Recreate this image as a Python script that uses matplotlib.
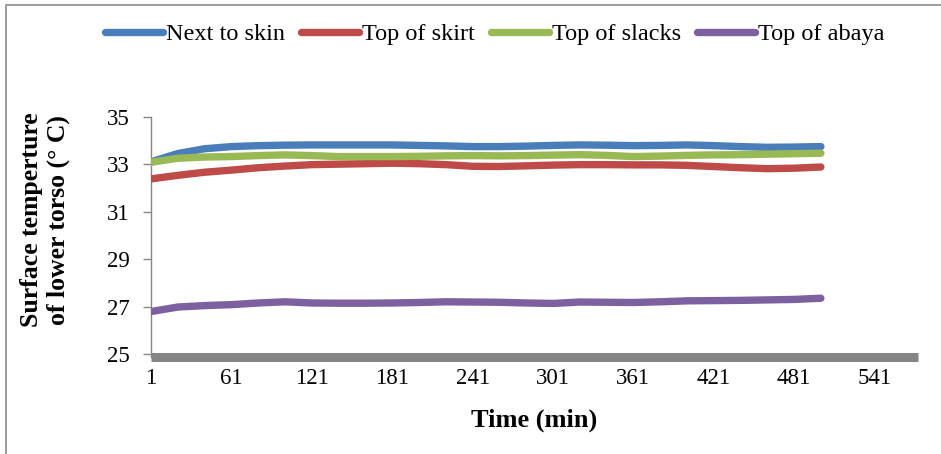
import matplotlib
matplotlib.use("Agg")
import matplotlib.pyplot as plt
from matplotlib.patches import Rectangle

plt.rcParams['font.family'] = ['Liberation Serif', 'DejaVu Serif']

minutes = [1, 21, 41, 61, 81, 101, 121, 141, 161, 181, 201, 221, 241,
           261, 281, 301, 321, 341, 361, 381, 401, 421, 441, 461, 481, 501]

next_to_skin = [33.10, 33.45, 33.65, 33.74, 33.78, 33.80, 33.81, 33.81, 33.81,
                33.81, 33.79, 33.77, 33.74, 33.74, 33.76, 33.79, 33.81, 33.80,
                33.78, 33.79, 33.81, 33.78, 33.74, 33.71, 33.72, 33.74]
top_of_skirt = [32.38, 32.53, 32.66, 32.75, 32.85, 32.92, 32.98, 33.00, 33.02,
                33.04, 33.02, 32.98, 32.91, 32.90, 32.93, 32.96, 32.98, 32.98,
                32.97, 32.97, 32.95, 32.90, 32.85, 32.81, 32.83, 32.88]
top_of_slacks = [33.08, 33.25, 33.30, 33.32, 33.36, 33.39, 33.36, 33.32, 33.32,
                 33.32, 33.33, 33.35, 33.36, 33.35, 33.36, 33.38, 33.40, 33.37,
                 33.32, 33.34, 33.37, 33.39, 33.40, 33.42, 33.44, 33.46]
top_of_abaya = [26.79, 26.98, 27.04, 27.08, 27.15, 27.20, 27.15, 27.14, 27.14,
                27.15, 27.17, 27.20, 27.19, 27.18, 27.15, 27.13, 27.19, 27.18,
                27.17, 27.20, 27.24, 27.25, 27.26, 27.28, 27.30, 27.35]

series_names = ["Next to skin", "Top of skirt", "Top of slacks", "Top of abaya"]
series_values = [next_to_skin, top_of_skirt, top_of_slacks, top_of_abaya]
colors = ["#4A7EBB", "#BE4B48", "#98B954", "#7D60A0"]

x_ticks = [1, 61, 121, 181, 241, 301, 361, 421, 481, 541]
y_ticks = [25, 27, 29, 31, 33, 35]
n_categories = 573

W, H = 941, 454
fig = plt.figure(figsize=(W / 100, H / 100), dpi=100)
ax = fig.add_axes([150.5 / W, (H - 354) / H, (918 - 150.5) / W, (354 - 116.7) / H])

lines = []
for name, vals, c in zip(series_names, series_values, colors):
    ln, = ax.plot(minutes, vals, color=c, lw=5.3, solid_capstyle='round',
                  solid_joinstyle='round', label=name, zorder=3)
    lines.append(ln)

ax.set_xlim(0.5, n_categories + 0.5)
ax.set_ylim(25, 35)
ax.set_xticks(x_ticks)
ax.set_yticks(y_ticks)
ax.tick_params(axis='y', direction='out', length=6, width=1, color='#868686',
               labelsize=16.5, pad=9)
ax.tick_params(axis='x', length=0, labelsize=16.5, pad=10)

for s in ['top', 'right', 'bottom']:
    ax.spines[s].set_visible(False)
ax.spines['left'].set_color('#868686')
ax.spines['left'].set_linewidth(1)
ax.spines['left'].set_bounds(24.87, 35)

# thick gray base line of the category axis
ax.axhline(24.87, color='#858585', lw=6.5, clip_on=False, zorder=2,
           solid_capstyle='butt')

ax.set_xlabel("Time (min)", fontsize=19, fontweight='bold', labelpad=14)
fig.text(45 / W, 1 - 220 / H, "Surface temperture\nof lower torso (° C)",
         rotation=90, ha='center', va='center', fontsize=18.5,
         fontweight='bold', linespacing=1.15)

fig.legend(handles=lines, labels=series_names, loc='center', ncol=4,
           bbox_to_anchor=(494.5 / W, 1 - 34 / H), frameon=False,
           fontsize=17.5, handlelength=2.4, handletextpad=0.12,
           columnspacing=0.65)

# outer chart border (top and left visible)
fig.patches.append(Rectangle((5.5 / W, -0.05), 1.2, 1 - 4.5 / H + 0.05,
                             transform=fig.transFigure, fill=False,
                             edgecolor='#8c8c8c', lw=1.2))

fig.savefig("out.png", dpi=100)
